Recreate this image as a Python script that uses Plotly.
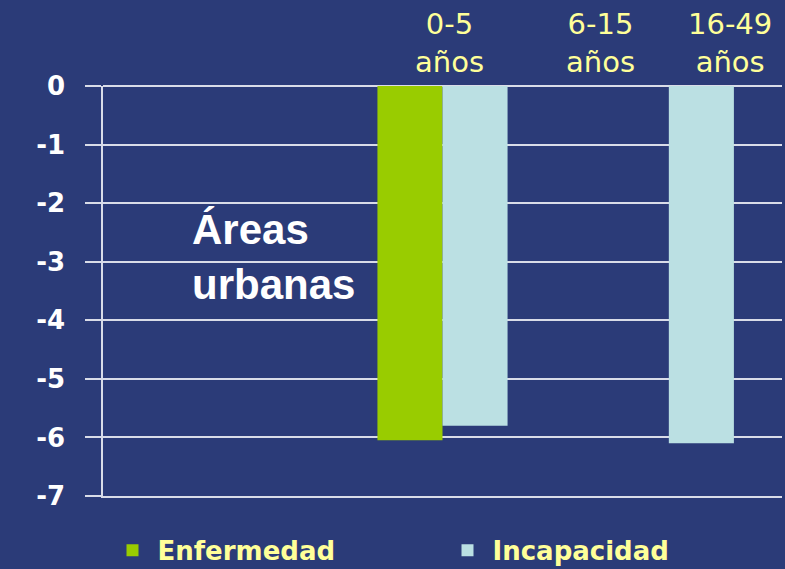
import plotly.graph_objects as go

# ---- data ----
categories = ["urbanas", "0-5", "16-49"]
enfermedad = [None, -6.05, None]
incapacidad = [None, -5.8, -6.1]
age_labels = ["0-5<br>años", "6-15<br>años", "16-49<br>años"]
y_ticks = [0, -1, -2, -3, -4, -5, -6, -7]
series_names = ["Enfermedad", "Incapacidad"]

BG = "#2b3b78"
GRID = "#d9dce8"
YELLOW = "#ffff99"

fig = go.Figure()
fig.add_trace(go.Bar(x=categories, y=enfermedad, name=series_names[0],
                     marker=dict(color="#99cc00", line=dict(width=0))))
fig.add_trace(go.Bar(x=categories, y=incapacidad, name=series_names[1],
                     marker=dict(color="#bbe0e3", line=dict(width=0))))

fig.update_layout(
    width=785, height=569,
    paper_bgcolor=BG, plot_bgcolor=BG,
    margin=dict(l=103, r=3, t=86, b=72.5, autoexpand=False),
    barmode="group", bargap=0.425, bargroupgap=0,
    showlegend=True,
    legend=dict(orientation="h", x=0.5, xanchor="center", y=-0.1328, yanchor="middle",
                font=dict(family="DejaVu Sans", size=26, color=YELLOW, weight="bold"),
                bgcolor="rgba(0,0,0,0)", entrywidth=280, itemwidth=40),
    xaxis=dict(showticklabels=False, showgrid=False, zeroline=False,
               showline=True, linecolor=GRID, linewidth=1.5,
               ticks="", fixedrange=True),
    yaxis=dict(range=[-7, 0], tickvals=y_ticks, ticktext=[str(v) for v in y_ticks],
               showgrid=True, gridcolor=GRID, gridwidth=1.5,
               zeroline=True, zerolinecolor=GRID, zerolinewidth=1.5,
               showline=True, linecolor=GRID, linewidth=1.5,
               ticks="outside", ticklen=16, tickcolor=GRID, tickwidth=1.5,
               ticklabelstandoff=15, fixedrange=True,
               tickfont=dict(family="DejaVu Sans", size=26, color="white", weight="bold")),
)

label_x = [0.5096, 0.733, 0.923]
for lab, xp in zip(age_labels, label_x):
    fig.add_annotation(text=lab, x=xp, y=1.105, xref="paper", yref="paper",
                       xanchor="center", yanchor="middle", align="center", showarrow=False,
                       font=dict(family="DejaVu Sans", size=29, color=YELLOW))

fig.add_annotation(text="Áreas<br>urbanas", x=0.128, y=0.584, xref="paper", yref="paper",
                   xanchor="left", yanchor="middle", align="left", showarrow=False,
                   font=dict(family="Liberation Sans, Arial", size=42, color="white", weight="bold"))

fig.write_html("out.html", config={"displayModeBar": False},
               post_script="document.body.style.margin='0';document.body.style.background='" + BG + "';")
